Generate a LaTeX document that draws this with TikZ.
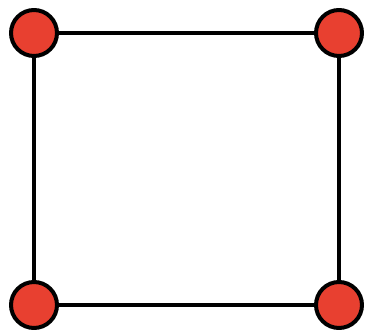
\documentclass[tikz,border=0pt]{standalone}
\definecolor{dotred}{RGB}{232,64,48}
\begin{document}
\begin{tikzpicture}[x=1pt,y=-1pt,line join=round,line cap=round,
	corner/.style={circle,draw=black,fill=dotred,line width=4pt,minimum size=46pt,inner sep=0pt}]
	\useasboundingbox (0,0) rectangle (365,332);
	\path
	(34,33) coordinate (A)
	(339,33) coordinate (B)
	(339,305) coordinate (C)
	(34,305) coordinate (D);
	\draw[line width=4pt] (A) -- (B) -- (C) -- (D) -- cycle;
	\foreach \p in {A,B,C,D}{
		\node[corner] (n\p) at (\p) {};
	}
\end{tikzpicture}
\end{document}
